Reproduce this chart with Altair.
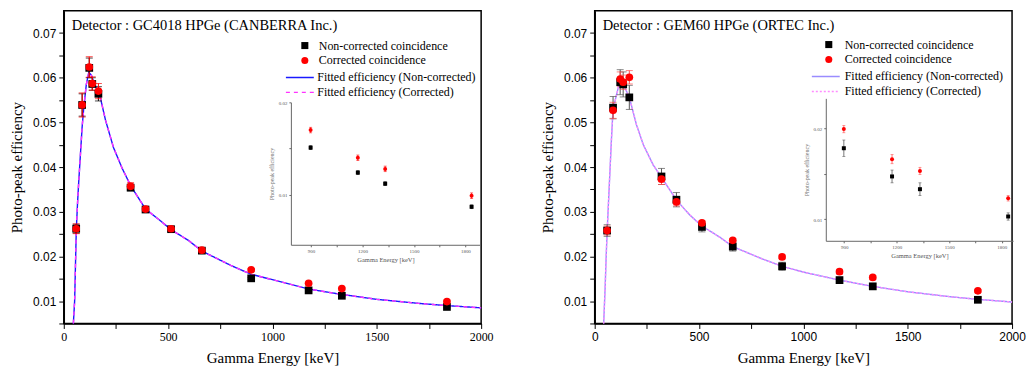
import altair as alt
import pandas as pd

# ---------------- data ----------------
energies = [59.5, 88.0, 122.1, 136.5, 165.9, 320.1, 391.7, 514.0, 661.7, 898.0, 1173.2, 1332.5, 1836.1]

SERIES = ["Non-corrected coincidence", "Corrected coincidence"]
FITS = ["Fitted efficiency (Non-corrected)", "Fitted efficiency (Corrected)"]

# Left detector: GC4018 HPGe (CANBERRA)
can_nc = [0.0262, 0.0539, 0.0622, 0.0586, 0.0564, 0.0354, 0.0305, 0.0261, 0.0213, 0.0151, 0.0124, 0.0112, 0.0087]
can_nc_err = [0.0010, 0.0025, 0.0022, 0.0014, 0.0016, 0.0007, 0.0005, 0.0004, 0.0004, 0.0002, 0.0002, 0.0002, 0.0002]
can_c = [0.0262, 0.0539, 0.0624, 0.0587, 0.0570, 0.0357, 0.0306, 0.0262, 0.0214, 0.0170, 0.0140, 0.0128, 0.0099]
can_c_err = [0.0011, 0.0027, 0.0023, 0.0015, 0.0017, 0.0008, 0.0006, 0.0005, 0.0004, 0.0003, 0.0003, 0.0003, 0.0003]
can_fit_e = [46, 52, 56, 60, 66, 72, 80, 88, 96, 108, 120, 132, 144, 175, 200, 238, 280, 322, 392, 460, 514,
             600, 662, 800, 898, 1000, 1173, 1332, 1500, 1700, 1836, 2000]
can_fit_nc = [0.0050, 0.0100, 0.0180, 0.0260, 0.0320, 0.0370, 0.0430, 0.0490, 0.0534, 0.0585, 0.0612, 0.0606,
              0.0590, 0.0556, 0.0505, 0.0444, 0.0397, 0.0357, 0.0306, 0.0281, 0.0260, 0.0235, 0.0212, 0.0180,
              0.0160, 0.0148, 0.0127, 0.0115, 0.0104, 0.0095, 0.0090, 0.0085]
can_fit_c = [0.0050, 0.0100, 0.0180, 0.0260, 0.0320, 0.0370, 0.0430, 0.0490, 0.0534, 0.0585, 0.0612, 0.0606,
             0.0590, 0.0556, 0.0505, 0.0444, 0.0397, 0.0357, 0.0306, 0.0281, 0.0260, 0.0235, 0.0212, 0.0180,
             0.0160, 0.0148, 0.0127, 0.0115, 0.0104, 0.0095, 0.0090, 0.0085]

# Right detector: GEM60 HPGe (ORTEC)
ort_nc = [0.0258, 0.0533, 0.0590, 0.0585, 0.0556, 0.0379, 0.0327, 0.0266, 0.0222, 0.0178, 0.0147, 0.0133, 0.0103]
ort_nc_err = [0.0013, 0.0025, 0.0028, 0.0028, 0.0027, 0.0018, 0.0016, 0.0011, 0.0010, 0.0009, 0.0007, 0.0007, 0.0004]
ort_c = [0.0258, 0.0527, 0.0597, 0.0590, 0.0601, 0.0373, 0.0322, 0.0275, 0.0236, 0.0199, 0.0166, 0.0153, 0.0123]
ort_c_err = [0.0010, 0.0018, 0.0016, 0.0016, 0.0015, 0.0012, 0.0009, 0.0005, 0.0004, 0.0004, 0.0005, 0.0004, 0.0003]
ort_fit_e = [43, 50, 55, 60, 70, 80, 88, 122, 136, 166, 200, 233, 280, 320, 394, 455, 514, 600, 662, 800, 898,
             1000, 1173, 1332, 1500, 1700, 1836, 2000]
ort_fit_nc = [0.0050, 0.0130, 0.0200, 0.0260, 0.0360, 0.0460, 0.0530, 0.0595, 0.0586, 0.0556, 0.0495, 0.0450,
              0.0405, 0.0377, 0.0325, 0.0293, 0.0268, 0.0243, 0.0222, 0.0195, 0.0178, 0.0165, 0.0147, 0.0133,
              0.0121, 0.0110, 0.0104, 0.0098]
ort_fit_c = [0.0050, 0.0130, 0.0200, 0.0260, 0.0360, 0.0460, 0.0530, 0.0595, 0.0586, 0.0556, 0.0495, 0.0450,
             0.0405, 0.0377, 0.0325, 0.0293, 0.0268, 0.0243, 0.0222, 0.0195, 0.0178, 0.0165, 0.0147, 0.0133,
             0.0121, 0.0110, 0.0104, 0.0098]

main_x_ticks = [0, 250, 500, 750, 1000, 1250, 1500, 1750, 2000]
main_y_ticks = [0.005, 0.01, 0.015, 0.02, 0.025, 0.03, 0.035, 0.04, 0.045, 0.05, 0.055, 0.06, 0.065, 0.07]
inset_x_ticks = [900, 1050, 1200, 1350, 1500, 1650, 1800]
inset_y_ticks = [0.01, 0.015, 0.02]

W, H = 419, 314
SERIF = "Liberation Serif"
SANS = "Liberation Sans"


def make_panel(title, nc, nc_err, c, c_err, fit_e, fit_nc, fit_c, style):
    n = len(energies)
    pts = pd.DataFrame({
        "E": energies + energies,
        "eff": nc + c,
        "err": nc_err + c_err,
        "series": [SERIES[0]] * n + [SERIES[1]] * n,
    })
    pts["lo"] = pts["eff"] - pts["err"]
    pts["hi"] = pts["eff"] + pts["err"]
    m = len(fit_e)
    fits = pd.DataFrame({
        "E": fit_e + fit_e,
        "eff": fit_nc + fit_c,
        "fit": [FITS[0]] * m + [FITS[1]] * m,
    })

    x_axis = alt.Axis(values=main_x_ticks, format="d",
                      labelExpr="datum.value % 500 == 0 ? datum.label : ''",
                      labelFont=style["xfont"], labelFontSize=12, labelColor="black",
                      titleFont=SERIF, titleFontSize=15, titleFontWeight="normal", titleColor="black",
                      titlePadding=8, labelPadding=3.5, tickSize=5, tickColor="black", domainColor="black",
                      domainWidth=1.5, grid=False, labelOverlap=False, labelFlush=False)
    y_axis = alt.Axis(values=main_y_ticks,
                      labelExpr="round(datum.value*200) % 2 == 0 ? format(datum.value, '.2f') : ''",
                      labelFont=SANS, labelFontSize=12, labelColor="black",
                      titleFont=SERIF, titleFontSize=15, titleFontWeight="normal", titleColor="black",
                      titlePadding=style["ytp"], labelPadding=3, tickSize=5, tickColor="black",
                      domainColor="black", domainWidth=1.5, grid=False, labelOverlap=False, labelFlush=False)
    xs = alt.Scale(domain=[0, 2000], nice=False, zero=False)
    ys = alt.Scale(domain=[0.005, 0.075], nice=False, zero=False)

    def X(f):
        return alt.X(f, title="Gamma Energy [keV]", scale=xs, axis=x_axis)

    def Y(f):
        return alt.Y(f, title="Photo-peak efficiency", scale=ys, axis=y_axis)

    ix0, ix1 = style["ix_rng"]
    iyb, iyt = style["iy_rng"]
    ix_axis = alt.Axis(orient="bottom", offset=iyb - H, values=inset_x_ticks, format="d",
                       labelExpr="datum.value % 300 == 0 ? datum.label : ''",
                       labelFont=SERIF, labelFontSize=5, labelColor="#555",
                       titleFont=SERIF, titleFontSize=6.5, titleFontWeight="normal", titleColor="#555",
                       titlePadding=3, labelPadding=2, tickSize=2, tickColor="#666", domainColor="#666",
                       domainWidth=1, grid=False, labelOverlap=False, labelFlush=False)
    iy_axis = alt.Axis(orient="left", offset=-ix0, values=inset_y_ticks,
                       labelExpr="round(datum.value*200) % 2 == 0 ? format(datum.value, '.2f') : ''",
                       labelFont=SERIF, labelFontSize=5, labelColor="#555",
                       titleFont=SERIF, titleFontSize=6, titleFontWeight="normal", titleColor="#777",
                       titlePadding=4, labelPadding=2, tickSize=2, tickColor="#666", domainColor="#666",
                       domainWidth=1, grid=False, labelOverlap=False, labelFlush=False)
    ixs = alt.Scale(domain=style["ix_dom"], range=[ix0, ix1], nice=False, zero=False)
    iys = alt.Scale(domain=style["iy_dom"], range=[iyb, iyt], nice=False, zero=False)

    def IX(f):
        return alt.X(f, title="Gamma Energy [keV]", scale=ixs, axis=ix_axis)

    def IY(f):
        return alt.Y(f, title="Photo-peak efficiency", scale=iys, axis=iy_axis)

    pt_legend = alt.Legend(title=None, orient="none", legendX=style["pl"][0], legendY=style["pl"][1],
                           labelFont=SERIF, labelFontSize=12, labelColor="black", symbolSize=50,
                           rowPadding=3, labelOffset=style["pl"][2], padding=0, labelLimit=400)
    ln_legend = alt.Legend(title=None, orient="none", legendX=style["ll"][0], legendY=style["ll"][1],
                           labelFont=SERIF, labelFontSize=12, labelColor="black", symbolSize=196,
                           symbolType="M-2,0L2,0", symbolStrokeWidth=1.5, rowPadding=1,
                           labelOffset=style["ll"][2], padding=0, labelLimit=400)
    color = alt.Color("series:N", scale=alt.Scale(domain=SERIES, range=["black", "red"]), legend=pt_legend)
    shape = alt.Shape("series:N", scale=alt.Scale(domain=SERIES, range=["square", "circle"]), legend=pt_legend)
    stroke = alt.Stroke("fit:N", scale=alt.Scale(domain=FITS, range=style["fit_colors"]), legend=ln_legend)
    dash = alt.StrokeDash("fit:N", scale=alt.Scale(domain=FITS, range=style["fit_dashes"]), legend=ln_legend)

    base_f = alt.Chart(fits)
    fit_layers = [
        base_f.transform_filter(alt.datum.fit == f).mark_line(strokeWidth=1.4).encode(
            x=X("E:Q"), y=Y("eff:Q"), stroke=stroke, strokeDash=dash)
        for f in FITS
    ]
    base_p = alt.Chart(pts)
    err_layers = []
    for s, col in zip(SERIES, style["err_colors"]):
        b = base_p.transform_filter(alt.datum.series == s)
        err_layers.append(b.mark_rule(color=col, strokeWidth=1).encode(x=X("E:Q"), y=Y("lo:Q"), y2="hi:Q"))
        err_layers.append(b.transform_fold(["lo", "hi"], as_=["k", "v"]).mark_tick(
            orient="horizontal", color=col, size=7, thickness=1).encode(x=X("E:Q"), y=Y("v:Q")))
    pt_layer = base_p.mark_point(filled=True, opacity=1, size=60).encode(
        x=X("E:Q"), y=Y("eff:Q"), color=color, shape=shape)
    label = alt.Chart(pd.DataFrame({"t": [title]})).mark_text(
        align="left", baseline="middle", font=SERIF, fontSize=14.5, color="black"
    ).encode(text="t:N", x=alt.value(8), y=alt.value(15))
    main = alt.layer(*fit_layers, *err_layers, pt_layer, label)

    ins = base_p.transform_filter(alt.datum.E > 800)
    in_layers = []
    for s, col in zip(SERIES, style["err_colors"]):
        b = ins.transform_filter(alt.datum.series == s)
        in_layers.append(b.mark_rule(color=col, strokeWidth=0.8).encode(x=IX("E:Q"), y=IY("lo:Q"), y2="hi:Q"))
        in_layers.append(b.transform_fold(["lo", "hi"], as_=["k", "v"]).mark_tick(
            orient="horizontal", color=col, size=3, thickness=0.8).encode(x=IX("E:Q"), y=IY("v:Q")))
    in_layers.append(ins.mark_point(filled=True, opacity=1, size=16).encode(
        x=IX("E:Q"), y=IY("eff:Q"), color=color, shape=shape))
    inset = alt.layer(*in_layers)

    return alt.layer(main, inset).resolve_scale(x="independent", y="independent").properties(
        width=W, height=H)


left = make_panel("Detector : GC4018 HPGe (CANBERRA Inc.)", can_nc, can_nc_err, can_c, can_c_err,
                  can_fit_e, can_fit_nc, can_fit_c,
                  dict(xfont=SERIF, ytp=8, ix_dom=[783, 1886], ix_rng=(228, 418), iy_dom=[0.00459, 0.02],
                       iy_rng=(235, 92), pl=(236, 29, 8), ll=(229, 59, 9.5),
                       fit_colors=["#1a1aff", "#ff33ff"], fit_dashes=[[1, 0], [4, 4]],
                       err_colors=["black", "red"]))
right = make_panel("Detector : GEM60 HPGe (ORTEC Inc.)", ort_nc, ort_nc_err, ort_c, ort_c_err,
                   ort_fit_e, ort_fit_nc, ort_fit_c,
                   dict(xfont=SANS, ytp=8, ix_dom=[795, 1864], ix_rng=(232, 420), iy_dom=[0.00763, 0.02328],
                        iy_rng=(231, 88), pl=(229, 28, 10), ll=(224, 58, 11),
                        fit_colors=["#9a8cff", "#ff8cff"], fit_dashes=[[1, 0], [2, 2]],
                        err_colors=["#555555", "#ff5050"]))

chart = alt.hconcat(left, right, spacing=45).resolve_scale(
    color="independent", shape="independent", stroke="independent", strokeDash="independent"
).properties(
    padding={"left": 0, "top": 1, "right": 0, "bottom": 0}
).configure_view(stroke="black", strokeWidth=1.5)

chart.save("out.html", embed_options={"renderer": "svg", "actions": False})
